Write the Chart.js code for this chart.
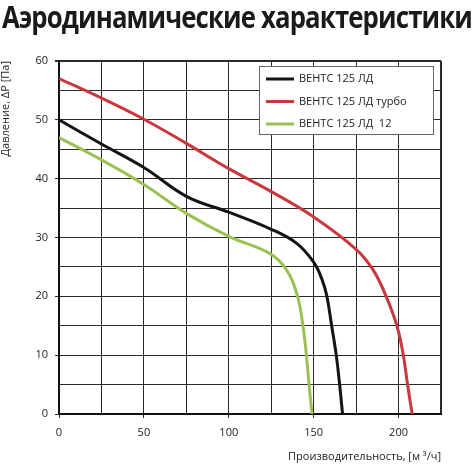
<!DOCTYPE html>
<html>
<head>
<meta charset="utf-8">
<script src="https://cdn.jsdelivr.net/npm/chart.js@4.4.0/dist/chart.umd.min.js"></script>
<style>
  html, body { margin: 0; padding: 0; background: #fff; }
  #wrap { position: relative; width: 474px; height: 464px; }
  #title {
    position: absolute; left: 2px; top: 2px;
    font: bold 30px/1 "Open Sans", sans-serif; color: #1a1a1a;
    letter-spacing: -1px;
    white-space: nowrap; transform-origin: 0 0;
  }
  canvas { position: absolute; left: 0; top: 0; }
</style>
</head>
<body>
<div id="wrap">
  <canvas id="chart" width="474" height="464"></canvas>
  <div id="title">Аэродинамические характеристики</div>
</div>
<script>
// ВЕНТС 125 ЛД
const ventsX = [0, 25, 50, 75, 100, 125, 140, 150, 155, 157.8, 160.6, 163.3, 165.3, 167];
const ventsY = [50, 45.9, 41.9, 37, 34.3, 31.4, 29, 25.8, 22.8, 20, 15, 10, 5, 0];
// ВЕНТС 125 ЛД турбо
const turboX = [0, 25, 50, 75, 100, 125, 150, 175, 185, 192.7, 199, 202.8, 205.3, 208];
const turboY = [57, 53.7, 50.1, 46, 41.7, 37.8, 33.5, 28, 24.5, 20, 15, 10, 5, 0];
// ВЕНТС 125 ЛД 12
const v12X = [0, 25, 50, 75, 100, 124, 134, 140.5, 143.7, 145.7, 147.3, 149];
const v12Y = [47, 43.2, 39, 34.1, 30.2, 27.3, 24.5, 20, 15, 10, 5, 0];

const seriesNames = ['ВЕНТС 125 ЛД', 'ВЕНТС 125 ЛД турбо', 'ВЕНТС 125 ЛД  12'];
const seriesColors = ['#141414', '#c8383d', '#9cc153'];

const xLabels = [0, 50, 100, 150, 200];
const yLabels = [0, 10, 20, 30, 40, 50, 60];

const toPoints = (xs, ys) => xs.map((x, i) => ({ x: x, y: ys[i] }));

// legend drawn inside the plot, top right, on a white box
const legendBox = {
  id: 'legendBox',
  afterDatasetsDraw(chart) {
    const { ctx, chartArea } = chart;
    const x = chartArea.right - 182, y = chartArea.top + 5, w = 174, h = 68;
    ctx.save();
    ctx.fillStyle = '#fff';
    ctx.fillRect(x, y, w, h);
    ctx.strokeStyle = '#666';
    ctx.lineWidth = 1;
    ctx.strokeRect(x + 0.5, y + 0.5, w, h);
    ctx.font = '11px "Open Sans"';
    ctx.textBaseline = 'middle';
    chart.data.datasets.forEach((ds, i) => {
      const ly = y + 13 + i * 22.5;
      ctx.strokeStyle = ds.borderColor;
      ctx.lineWidth = 3;
      ctx.beginPath();
      ctx.moveTo(x + 7, ly);
      ctx.lineTo(x + 35, ly);
      ctx.stroke();
      ctx.fillStyle = '#222';
      ctx.fillText(ds.label, x + 40, ly);
    });
    ctx.restore();
  }
};

const gridColor = '#2a2a2a';

new Chart(document.getElementById('chart'), {
  type: 'line',
  data: {
    datasets: [
      { label: seriesNames[0], data: toPoints(ventsX, ventsY), borderColor: seriesColors[0] },
      { label: seriesNames[1], data: toPoints(turboX, turboY), borderColor: seriesColors[1] },
      { label: seriesNames[2], data: toPoints(v12X, v12Y), borderColor: seriesColors[2] }
    ]
  },
  options: {
    responsive: false,
    animation: false,
    layout: { padding: { top: 61, right: 33, left: 0, bottom: 0 } },
    plugins: { legend: { display: false }, tooltip: { enabled: false } },
    elements: {
      point: { radius: 0 },
      line: { borderWidth: 3, tension: 0.4, fill: false }
    },
    scales: {
      x: {
        type: 'linear', min: 0, max: 225,
        afterFit: s => { s.height = 50; },
        border: { color: '#111', width: 2 },
        grid: {
          color: gridColor,
          lineWidth: c => (c.tick && c.tick.value === 225) ? 2 : 1,
          tickLength: 4,
          tickColor: c => xLabels.includes(c.tick.value) ? gridColor : 'rgba(0,0,0,0)'
        },
        ticks: {
          stepSize: 25, autoSkip: false, maxRotation: 0, padding: 8,
          color: '#222', font: { family: 'Open Sans', size: 11 },
          callback: v => xLabels.includes(v) ? v : ''
        },
        title: {
          display: true, align: 'end', text: 'Производительность, [м ³/ч]',
          color: '#222', font: { family: 'Open Sans', size: 11 },
          padding: { top: 0, bottom: 1 }
        }
      },
      y: {
        min: 0, max: 60,
        afterFit: s => { s.width = 59; },
        border: { color: '#111', width: 2 },
        grid: {
          color: gridColor,
          lineWidth: c => (c.tick && c.tick.value === 60) ? 2 : 1,
          tickLength: 4,
          tickColor: c => yLabels.includes(c.tick.value) ? gridColor : 'rgba(0,0,0,0)'
        },
        ticks: {
          stepSize: 5, autoSkip: false, padding: 7,
          color: '#222', font: { family: 'Open Sans', size: 11 },
          callback: v => yLabels.includes(v) ? v : ''
        },
        title: {
          display: true, align: 'end', text: 'Давление, ΔP [Па]',
          color: '#222', font: { family: 'Open Sans', size: 11, lineHeight: 1 },
          padding: { top: 0, bottom: 0 }
        }
      }
    }
  },
  plugins: [legendBox]
});

// stretch the heading to the full width like the original
const title = document.getElementById('title');
const tw = title.getBoundingClientRect().width;
title.style.transform = 'scaleX(' + (470 / tw) + ')';
</script>
</body>
</html>
